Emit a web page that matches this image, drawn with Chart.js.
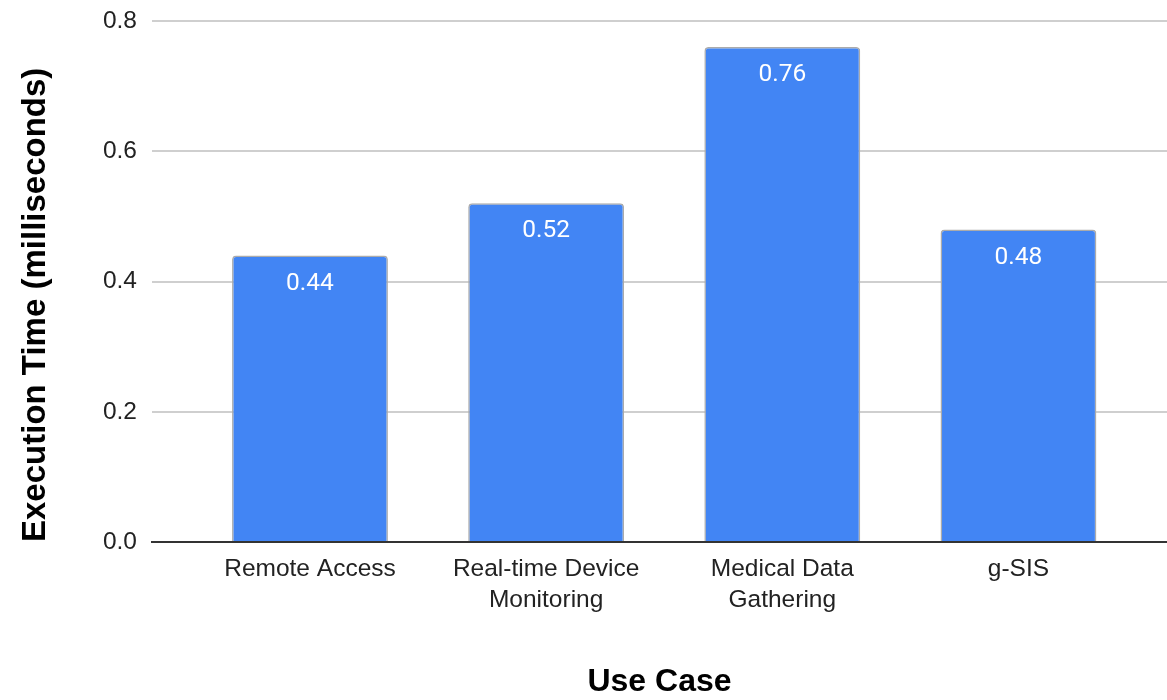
<!DOCTYPE html>
<html>
<head>
<meta charset="utf-8">
<title>Execution Time by Use Case</title>
<script src="https://cdn.jsdelivr.net/npm/chart.js@4.4.1/dist/chart.umd.min.js"></script>
<style>
  html, body { margin: 0; padding: 0; background: #ffffff; }
  #wrap { width: 1167px; height: 700px; }
</style>
</head>
<body>
<div id="wrap"><canvas id="chart" width="1167" height="700"></canvas></div>
<script>
// Use cases (each entry lists the lines of its axis label)
const useCases = [
  ["Remote Access"],
  ["Real-time Device", "Monitoring"],
  ["Medical Data", "Gathering"],
  ["g-SIS"]
];
// Execution time per use case, in milliseconds
const executionTimes = [0.44, 0.52, 0.76, 0.48];
// Value axis ticks
const yTicks = [0, 0.2, 0.4, 0.6, 0.8];

const points = executionTimes.map((v, i) => ({ x: i, y: v }));

// Writes each bar's value inside the top of the bar
const valueLabels = {
  id: 'valueLabels',
  afterDatasetsDraw(chart) {
    const ctx = chart.ctx;
    const meta = chart.getDatasetMeta(0);
    ctx.save();
    ctx.fillStyle = '#ffffff';
    ctx.font = '24.5px Roboto, "Liberation Sans", sans-serif';
    ctx.textAlign = 'center';
    ctx.textBaseline = 'middle';
    meta.data.forEach((bar, i) => {
      ctx.fillText(executionTimes[i].toFixed(2), bar.x, bar.y + 28);
    });
    ctx.restore();
  }
};

new Chart(document.getElementById('chart'), {
  type: 'bar',
  data: {
    datasets: [{
      data: points,
      backgroundColor: '#4285f4',
      borderColor: '#ababab',
      borderWidth: 1.5,
      borderSkipped: 'start',
      borderRadius: { topLeft: 4, topRight: 4, bottomLeft: 0, bottomRight: 0 },
      categoryPercentage: 1,
      barPercentage: 0.66
    }]
  },
  options: {
    responsive: false,
    animation: false,
    layout: { padding: { top: 21, right: 0, bottom: 0, left: 0 } },
    plugins: {
      legend: { display: false },
      tooltip: { enabled: false }
    },
    scales: {
      x: {
        type: 'linear',
        position: 'bottom',
        offset: false,
        min: -0.669,
        max: 3.629,
        afterBuildTicks(scale) { scale.ticks = useCases.map((_, i) => ({ value: i })); },
        afterFit(scale) {
          scale.height = 158;
          scale.paddingLeft = 0;
          scale.paddingRight = 0;
        },
        grid: { display: false, drawTicks: false, offset: false },
        border: { display: true, color: '#333333', width: 2, z: 1 },
        ticks: {
          autoSkip: false,
          maxRotation: 0,
          minRotation: 0,
          padding: 12,
          color: '#222222',
          font: { family: '"Liberation Sans", Arial, sans-serif', size: 24.5, lineHeight: 1.27 },
          callback: (value) => useCases[value] || ''
        },
        title: {
          display: true,
          text: 'Use Case',
          color: '#000000',
          padding: { top: 0, bottom: 0 },
          font: { family: '"Liberation Sans", Arial, sans-serif', size: 32, weight: 'bold', lineHeight: 1.1 }
        }
      },
      y: {
        min: 0,
        max: 0.8,
        afterBuildTicks(scale) { scale.ticks = yTicks.map(v => ({ value: v })); },
        afterFit(scale) {
          scale.width = 152;
          scale.paddingTop = 0;
          scale.paddingBottom = 0;
        },
        grid: {
          color: '#cfcfcf',
          lineWidth: 2,
          drawTicks: false
        },
        border: { display: false },
        ticks: {
          padding: 15,
          color: '#222222',
          font: { family: '"Liberation Sans", Arial, sans-serif', size: 24.5 },
          callback: (value) => Number(value).toFixed(1)
        },
        title: {
          display: true,
          text: 'Execution Time (milliseconds)',
          align: 'start',
          color: '#000000',
          padding: { top: 18, bottom: 0 },
          font: { family: '"Liberation Sans", Arial, sans-serif', size: 33, weight: 'bold', lineHeight: 1.1 }
        }
      }
    }
  },
  plugins: [valueLabels]
});
</script>
</body>
</html>
